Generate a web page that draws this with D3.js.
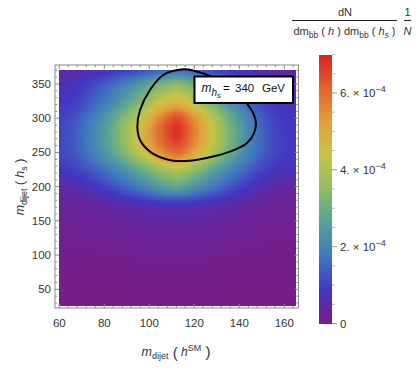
<!DOCTYPE html>
<html>
<head>
<meta charset="utf-8">
<script src="https://cdn.jsdelivr.net/npm/d3@7"></script>
<style>
  html, body { margin: 0; padding: 0; background: #fff; }
  svg { display: block; font-family: "Liberation Sans", Arial, Helvetica, sans-serif; }
</style>
</head>
<body>
<svg id="chart" width="420" height="372"></svg>
<script>
// ---------------- DATA ----------------
// grid of the density (values in units of 1e-4)
const xGrid = [60, 67.5, 75, 82.5, 90, 97.5, 105, 112.5, 120, 127.5, 135, 142.5, 150, 157.5, 165];
const yGrid = [375, 350, 325, 300, 275, 250, 225, 200, 175, 150, 125, 100, 75, 50, 25];
const density = [
  [0.43,0.48,0.58,0.71,0.87,1.05,1.24,1.35,1.19,0.98,0.79,0.61,0.47,0.38,0.35],
  [0.66,0.80,1.11,1.51,2.00,2.55,3.16,3.48,2.98,2.35,1.76,1.25,0.84,0.62,0.53],
  [0.81,1.01,1.45,2.01,2.69,3.47,4.31,4.77,4.07,3.19,2.35,1.64,1.07,0.80,0.65],
  [1.03,1.30,1.88,2.62,3.52,4.56,5.72,6.45,5.45,4.22,3.07,2.14,1.39,0.98,0.83],
  [1.10,1.40,2.00,2.80,3.80,4.90,6.05,6.70,5.70,4.48,3.30,2.30,1.50,1.05,0.86],
  [1.10,1.35,1.89,2.59,3.43,4.40,5.40,5.95,5.10,4.05,3.01,2.13,1.43,1.03,0.88],
  [0.87,1.03,1.38,1.83,2.38,3.00,3.68,4.04,3.48,2.78,2.10,1.53,1.07,0.80,0.71],
  [0.44,0.56,0.81,1.13,1.51,1.96,2.44,2.70,2.30,1.80,1.32,0.92,0.60,0.42,0.36],
  [0.27,0.30,0.35,0.45,0.57,0.70,0.81,0.85,0.80,0.66,0.51,0.38,0.29,0.24,0.21],
  [0.19,0.20,0.22,0.25,0.30,0.35,0.38,0.40,0.38,0.33,0.28,0.22,0.18,0.16,0.15],
  [0.14,0.15,0.16,0.18,0.20,0.22,0.24,0.25,0.24,0.22,0.19,0.16,0.14,0.12,0.12],
  [0.10,0.10,0.11,0.12,0.13,0.14,0.15,0.15,0.15,0.13,0.12,0.11,0.10,0.09,0.08],
  [0.07,0.07,0.07,0.08,0.08,0.09,0.10,0.10,0.10,0.09,0.08,0.07,0.06,0.06,0.06],
  [0.03,0.03,0.03,0.04,0.04,0.05,0.05,0.05,0.05,0.05,0.04,0.04,0.03,0.03,0.03],
  [0.01,0.01,0.01,0.01,0.02,0.02,0.02,0.02,0.02,0.02,0.02,0.01,0.01,0.01,0.01]
];
const fieldX = [60, 165];
const fieldY = [27, 371];
// black contour line (m_dijet(h^SM), m_dijet(h_s)) points
const contourX = [115.1, 106.2, 100.3, 95.9, 94.7, 95.9, 100.3, 106.2, 110.7, 118.1, 127.0, 135.9, 143.3, 146.5, 147.4, 146.2, 143.3, 138.1, 129.2, 120.3];
const contourY = [371.4, 363.1, 341.2, 312.0, 287.6, 268.1, 251.1, 241.4, 237.9, 237.9, 242.9, 251.1, 263.3, 277.9, 292.5, 307.2, 321.8, 341.2, 358.7, 369.0];
// axes ticks
const xTicks = [60, 80, 100, 120, 140, 160];
const yTicks = [50, 100, 150, 200, 250, 300, 350];
const cbTicks = [0, 2, 4, 6];        // ×1e-4
const cbMax = 7;                     // ×1e-4
const massLabel = ["=", "340", "GeV"];

// Mathematica "Rainbow" colour stops
const rainbow = ["#781c87", "#4435c2", "#4078c0", "#57a099", "#8ebc64", "#c8c348", "#e2a13a", "#e26330", "#db2121"];

// ---------------- LAYOUT ----------------
const svg = d3.select("#chart");
const frame = { left: 55, right: 298.5, top: 65, bottom: 308 };
const x = d3.scaleLinear().domain([58.1, 166.3]).range([frame.left, frame.right]);
const y = d3.scaleLinear().domain([22.7, 377.7]).range([frame.bottom, frame.top]);
const color = d3.scaleLinear()
  .domain(rainbow.map((_, i) => cbMax * i / (rainbow.length - 1)))
  .range(rainbow).interpolate(d3.interpolateRgb).clamp(true);

// bicubic (Catmull-Rom) sampling of the grid
function cr(p0, p1, p2, p3, t) {
  return p1 + 0.5 * t * (p2 - p0 + t * (2 * p0 - 5 * p1 + 4 * p2 - p3 + t * (3 * (p1 - p2) + p3 - p0)));
}
const nx = xGrid.length, ny = yGrid.length;
function cell(i, j) {
  i = Math.max(0, Math.min(ny - 1, i)); j = Math.max(0, Math.min(nx - 1, j));
  return density[i][j];
}
function sample(vx, vy) {
  const fj = (vx - xGrid[0]) / (xGrid[1] - xGrid[0]);
  const fi = (yGrid[0] - vy) / (yGrid[0] - yGrid[1]);
  const j = Math.floor(fj), i = Math.floor(fi);
  const tx = fj - j, ty = fi - i;
  const rows = [];
  for (let k = -1; k <= 2; k++) {
    rows.push(cr(cell(i + k, j - 1), cell(i + k, j), cell(i + k, j + 1), cell(i + k, j + 2), tx));
  }
  return Math.max(0, cr(rows[0], rows[1], rows[2], rows[3], ty));
}

// ---------------- HEATMAP ----------------
const NX = 105, NY = 140;
const dx = (fieldX[1] - fieldX[0]) / NX, dy = (fieldY[1] - fieldY[0]) / NY;
const cells = [];
for (let a = 0; a < NX; a++) {
  for (let b = 0; b < NY; b++) {
    const x0 = fieldX[0] + a * dx, y0 = fieldY[0] + b * dy;
    cells.push({ x0, x1: x0 + dx, y0, y1: y0 + dy, v: sample(x0 + dx / 2, y0 + dy / 2) });
  }
}
svg.append("g").attr("shape-rendering", "crispEdges")
  .selectAll("rect").data(cells).join("rect")
  .attr("x", d => x(d.x0))
  .attr("y", d => y(d.y1))
  .attr("width", d => x(d.x1) - x(d.x0) + 0.6)
  .attr("height", d => y(d.y0) - y(d.y1) + 0.6)
  .attr("fill", d => color(d.v));

// ---------------- CONTOUR ----------------
const pts = contourX.map((v, i) => [v, contourY[i]]);
svg.append("path")
  .attr("d", d3.line().x(d => x(d[0])).y(d => y(d[1])).curve(d3.curveCatmullRomClosed)(pts))
  .attr("fill", "none").attr("stroke", "#000").attr("stroke-width", 2);

// ---------------- FRAME & TICKS ----------------
const frameColor = "#8a8a8a", textColor = "#333";
svg.append("rect")
  .attr("x", frame.left).attr("y", frame.top)
  .attr("width", frame.right - frame.left).attr("height", frame.bottom - frame.top)
  .attr("fill", "none").attr("stroke", frameColor).attr("stroke-width", 1);

const xMinor = d3.range(60, 166, 4).filter(v => !xTicks.includes(v));
const yMinor = d3.range(30, 377, 10).filter(v => !yTicks.includes(v));
const tg = svg.append("g").attr("stroke", frameColor).attr("stroke-width", 1);
function xt(v, len) {
  tg.append("line").attr("x1", x(v)).attr("x2", x(v)).attr("y1", frame.bottom).attr("y2", frame.bottom - len);
  tg.append("line").attr("x1", x(v)).attr("x2", x(v)).attr("y1", frame.top).attr("y2", frame.top + len);
}
function yt(v, len) {
  tg.append("line").attr("y1", y(v)).attr("y2", y(v)).attr("x1", frame.left).attr("x2", frame.left + len);
  tg.append("line").attr("y1", y(v)).attr("y2", y(v)).attr("x1", frame.right).attr("x2", frame.right - len);
}
xTicks.forEach(v => xt(v, 4)); xMinor.forEach(v => xt(v, 2.2));
yTicks.forEach(v => yt(v, 4)); yMinor.forEach(v => yt(v, 2.2));

svg.append("g").selectAll("text").data(xTicks).join("text")
  .attr("x", d => x(d)).attr("y", 327).attr("text-anchor", "middle")
  .attr("font-size", 11.5).attr("fill", textColor).text(d => d);
svg.append("g").selectAll("text").data(yTicks).join("text")
  .attr("x", 51).attr("y", d => y(d) + 4).attr("text-anchor", "end")
  .attr("font-size", 11.5).attr("fill", textColor).text(d => d);

// ---------------- AXIS LABELS ----------------
const xl = svg.append("text").attr("x", 176).attr("y", 356).attr("text-anchor", "middle")
  .attr("font-size", 12.5).attr("fill", textColor);
xl.append("tspan").attr("font-style", "italic").text("m");
xl.append("tspan").attr("font-size", 9).attr("dy", 3).text("dijet");
xl.append("tspan").attr("font-size", 15).attr("dy", -1).text(" (");
xl.append("tspan").attr("font-style", "italic").attr("font-size", 12).attr("dy", -2).text(" h");
xl.append("tspan").attr("font-size", 9).attr("dy", -5).text("SM");
xl.append("tspan").attr("font-size", 15).attr("dy", 6).text(" )");

const yl = svg.append("text").attr("transform", "translate(24,187) rotate(-90)")
  .attr("text-anchor", "middle").attr("font-size", 12.5).attr("fill", textColor);
yl.append("tspan").attr("font-style", "italic").text("m");
yl.append("tspan").attr("font-size", 9).attr("dy", 3).text("dijet");
yl.append("tspan").attr("font-size", 12).attr("dy", -3).text(" ( ");
yl.append("tspan").attr("font-style", "italic").text("h");
yl.append("tspan").attr("font-size", 9).attr("dy", 3).text("s");
yl.append("tspan").attr("dy", -3).text(" )");

// ---------------- LABEL BOX ----------------
svg.append("rect").attr("x", 194.5).attr("y", 76.5).attr("width", 98.5).attr("height", 26.5)
  .attr("fill", "#fff").attr("stroke", "#000").attr("stroke-width", 2);
const lb = svg.append("text").attr("x", 201.5).attr("y", 92).attr("font-size", 12).attr("fill", "#111");
lb.append("tspan").attr("font-style", "italic").text("m");
lb.append("tspan").attr("font-style", "italic").attr("font-size", 10).attr("dy", 4).text("h");
lb.append("tspan").attr("font-style", "italic").attr("font-size", 7.5).attr("dy", 2).text("s");
lb.append("tspan").attr("dy", -6).attr("x", 223).attr("font-size", 11.5).text(massLabel[0]);
lb.append("tspan").attr("x", 235).attr("font-size", 11.5).text(massLabel[1]);
lb.append("tspan").attr("x", 262).attr("font-size", 11.5).text(massLabel[2]);

// ---------------- COLOR BAR ----------------
const cb = { x0: 318.5, x1: 332, top: 54.5, bottom: 323.5 };
const cy = d3.scaleLinear().domain([0, cbMax]).range([cb.bottom, cb.top]);
const steps = d3.range(0, 270).map(i => cbMax * i / 270);
svg.append("g").attr("shape-rendering", "crispEdges").selectAll("rect").data(steps).join("rect")
  .attr("x", cb.x0).attr("width", cb.x1 - cb.x0)
  .attr("y", d => cy(d + cbMax / 270) ).attr("height", d => cy(d) - cy(d + cbMax / 270) + 0.6)
  .attr("fill", d => color(d + cbMax / 540));
const cbMinor = d3.range(0.5, cbMax + 0.01, 0.5).filter(v => !cbTicks.includes(v));
svg.append("g").attr("stroke", "#999").selectAll("line").data(cbTicks).join("line")
  .attr("x1", cb.x1).attr("x2", cb.x1 + 5).attr("y1", d => cy(d)).attr("y2", d => cy(d));
svg.append("g").attr("stroke", "#bbb").selectAll("line").data(cbMinor).join("line")
  .attr("x1", cb.x1).attr("x2", cb.x1 + 3).attr("y1", d => cy(d)).attr("y2", d => cy(d));
cbTicks.forEach(v => {
  const t = svg.append("text").attr("x", 340).attr("y", cy(v) + 4).attr("font-size", 11.5).attr("fill", textColor);
  if (v === 0) { t.text("0"); return; }
  t.append("tspan").text(v + ". \u00d7 10");
  t.append("tspan").attr("font-size", 9).attr("dy", -5).text("\u22124");
});

// colour bar title: dN / (dm_bb(h) dm_bb(h_s)) · 1/N
const ttl = svg.append("g").attr("fill", textColor);
ttl.append("text").attr("x", 345).attr("y", 16).attr("text-anchor", "middle").attr("font-size", 11).text("dN");
ttl.append("line").attr("x1", 292).attr("x2", 397).attr("y1", 20.5).attr("y2", 20.5).attr("stroke", "#222").attr("stroke-width", 1);
const den = ttl.append("text").attr("x", 344.5).attr("y", 35).attr("text-anchor", "middle").attr("font-size", 11);
den.append("tspan").text("dm");
den.append("tspan").attr("font-size", 8.5).attr("dy", 2.5).text("bb");
den.append("tspan").attr("dy", -2.5).text(" ( ");
den.append("tspan").attr("font-style", "italic").text("h");
den.append("tspan").text(" ) dm");
den.append("tspan").attr("font-size", 8.5).attr("dy", 2.5).text("bb");
den.append("tspan").attr("dy", -2.5).text(" ( ");
den.append("tspan").attr("font-style", "italic").text("h");
den.append("tspan").attr("font-style", "italic").attr("font-size", 8.5).attr("dy", 2.5).text("s");
den.append("tspan").attr("dy", -2.5).text(" )");
ttl.append("text").attr("x", 407.5).attr("y", 16).attr("text-anchor", "middle").attr("font-size", 11).text("1");
ttl.append("line").attr("x1", 404).attr("x2", 411).attr("y1", 20.5).attr("y2", 20.5).attr("stroke", "#222").attr("stroke-width", 1);
ttl.append("text").attr("x", 407.5).attr("y", 35).attr("text-anchor", "middle").attr("font-size", 11).attr("font-style", "italic").text("N");
</script>
</body>
</html>
